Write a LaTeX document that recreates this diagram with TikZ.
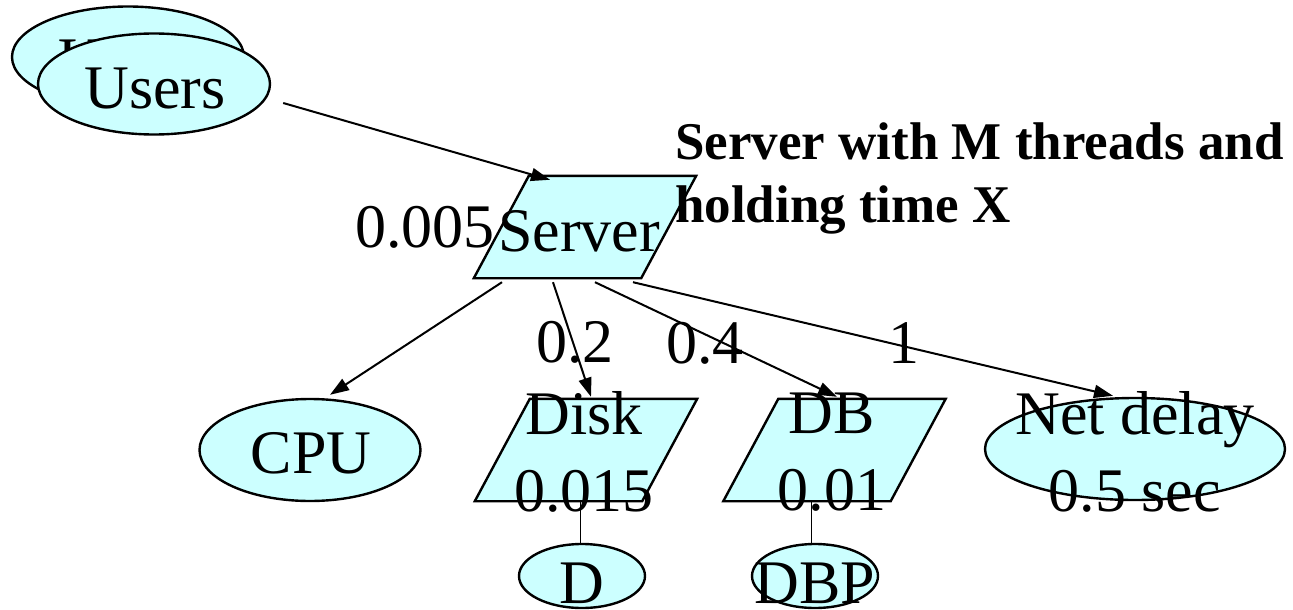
\documentclass[tikz,border=0pt]{standalone}
\usepackage{fontspec}
\setmainfont{Liberation Serif}
\usetikzlibrary{shapes.geometric,arrows.meta}
\definecolor{boxfill}{RGB}{204,255,255}
% slanted box drawn over the frame of a named node
\newcommand\drawpara[1]{%
  \draw[shapebox] ([xshift=27.5pt]#1.north west) -- ([xshift=27.5pt]#1.north east)
    -- ([xshift=-27.5pt]#1.south east) -- ([xshift=-27.5pt]#1.south west) -- cycle;}
\begin{document}
\begin{tikzpicture}[x=1pt,y=-1pt,
  shapebox/.style={draw, line width=2.4pt, fill=boxfill, inner sep=0pt},
  oval/.style={shapebox, ellipse},
  para/.style={inner sep=0pt, minimum width=167pt, minimum height=102pt},
  txt/.style={inner sep=0pt, font=\fontsize{62}{77}\selectfont},
  note/.style={inner sep=0pt, align=left,
    font=\fontsize{53}{63}\selectfont\bfseries},
  flow/.style={line width=2pt, -{Triangle[length=19pt,width=13pt]}},
  tie/.style={line width=1pt}]
\useasboundingbox (0,0) rectangle (1293,610);

% user population (two stacked ovals)
\node[oval, minimum width=232pt, minimum height=101pt] (usersback) at (128,57) {};
\node[txt, anchor=base] (usersbacktext) at (129,81) {Users};
\node[oval, minimum width=232pt, minimum height=101pt] (users) at (154,84) {};
\node[txt, anchor=base] (userstext) at (155,108) {Users};

% server
\node[para] (server) at (585,227) {};
\drawpara{server}
\node[txt, anchor=base] (servertext) at (579,251) {Server};
\node[txt, anchor=base] (serverrate) at (425,247) {0.005};
\node[note, anchor=west] (servernote) at (675,178)
  {Server with M threads and\\holding time X};

% resources
\node[oval, minimum width=221pt, minimum height=102pt] (cpu) at (310,450) {};
\node[txt, anchor=base] (cputext) at (311,473) {CPU};

\node[para] (disk) at (586,450) {};
\drawpara{disk}
\node[txt, align=center] (disktext) at (584,452) {Disk\\0.015};

\node[para] (db) at (834.5,450) {};
\drawpara{db}
\node[txt, align=center] (dbtext) at (832,452.5) {DB\\0.01};

\node[oval, minimum width=300pt, minimum height=102pt] (netdelay) at (1135,449) {};
\node[txt, align=center] (nettext) at (1135,452) {Net delay\\0.5 sec};

\node[oval, minimum width=126pt, minimum height=64pt] (d) at (582,576) {};
\node[txt, anchor=base] (dtext) at (582,603) {D};

\node[oval, minimum width=126pt, minimum height=64pt] (dbp) at (815,576) {};
\node[txt, anchor=base] (dbptext) at (815,603) {DBP};

% branch probabilities
\node[txt, anchor=base] (pdisk) at (575,362) {0.2};
\node[txt, anchor=base] (pdb) at (705,363) {0.4};
\node[txt, anchor=base] (pnet) at (904,363) {1};

% connectors
\draw[flow] ([xshift=12pt,yshift=-19pt]users.east) -- ([xshift=-35pt,yshift=-4pt]server.north);
\draw[flow] ([xshift=-83pt,yshift=-4pt]server.south) -- ([xshift=20pt,yshift=3pt]cpu.north);
\draw[flow] ([xshift=-32pt,yshift=-4pt]server.south) -- ([xshift=5pt,yshift=2pt]disk.north);
\draw[flow] ([xshift=10pt,yshift=-4pt]server.south) -- ([xshift=2.5pt,yshift=2pt]db.north);
\draw[flow] ([xshift=48pt,yshift=-4pt]server.south) -- ([xshift=-22pt,yshift=1pt]netdelay.north);
\draw[tie] ([xshift=-2pt]d.north) -- ([xshift=-2pt]d.north |- disk.south);
\draw[tie] ([xshift=-4pt]dbp.north) -- ([xshift=-4pt]dbp.north |- db.south);
\end{tikzpicture}
\end{document}
